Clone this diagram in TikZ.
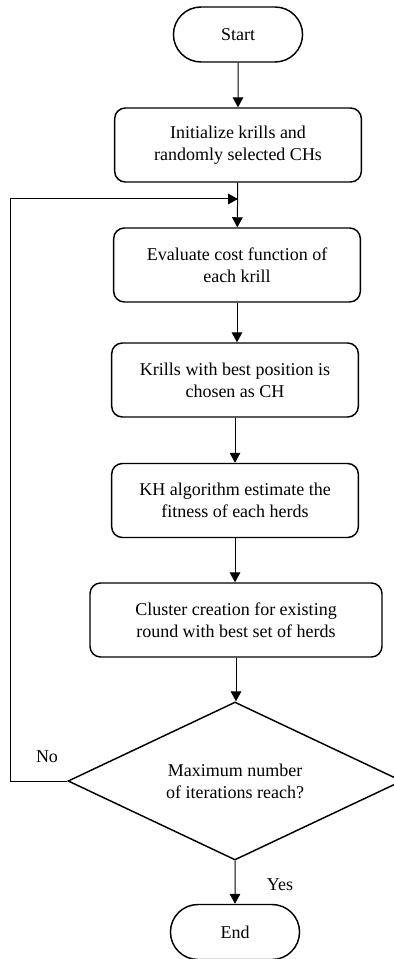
\documentclass[tikz,border=0pt]{standalone}
\usepackage{fontspec}
\setmainfont{Liberation Serif}
\usetikzlibrary{shapes.geometric,shapes.misc,arrows.meta}

\tikzset{every picture/.style={line width=0.75pt}}
\tikzset{
  procbox/.style={draw, line width=1.1pt, rounded corners=8pt, minimum width=185pt, minimum height=55.5pt, align=center, inner sep=2pt},
  termbox/.style={draw, line width=1.1pt, rounded rectangle, minimum width=103.5pt, minimum height=41.25pt},
  decbox/.style={draw, line width=1.1pt, diamond, aspect=2.1, minimum width=250.5pt, minimum height=118.5pt, inner sep=0pt, align=center},
  flow/.style={-{Triangle[length=7.5pt,width=8pt]}, line width=0.75pt}
}

\begin{document}
\begin{tikzpicture}[x=0.75pt,y=0.75pt,yscale=-1,xscale=1, font=\fontsize{13.5}{16.5}\selectfont]
        \useasboundingbox (0,0) rectangle (393,959);
        \node[termbox] (start) at (238,34.5) {Start};
        \node[procbox] (init) at (238,145) {Initialize krills and\\randomly selected CHs};
        \node[procbox] (eval) at (237,265) {Evaluate cost function of\\each krill};
        \node[procbox] (best) at (235,380) {Krills with best position is\\chosen as CH};
        \node[procbox] (fit) at (235,500.5) {KH algorithm estimate the\\fitness of each herds};
        \node[procbox, minimum width=219pt] (clust) at (236,620) {Cluster creation for existing\\round with best set of herds};
        \node[decbox] (decide) at (235,781) {Maximum number\\of iterations reach?};
        \node[termbox] (stop) at (235,932) {End};
        \node (no) at (47,757) {No};
        \node (yes) at (280,885) {Yes};
        \coordinate (back) at (10,199);
        \coordinate (join) at (238,199);
        % main flow
        \draw[flow] (start) -- (init);
        \draw[flow] (init) -- (eval);
        \draw[flow] (eval) -- (eval.south |- best.north);
        \draw[flow] (best) -- (fit);
        \draw[flow] (fit) -- (fit.south |- clust.north);
        \draw[flow] (clust) -- (clust.south |- decide.north);
        \draw[flow] (decide) -- (stop);
        % loop back
        \draw[flow] (decide.west) -| (back) -- (join);
\end{tikzpicture}
\end{document}
